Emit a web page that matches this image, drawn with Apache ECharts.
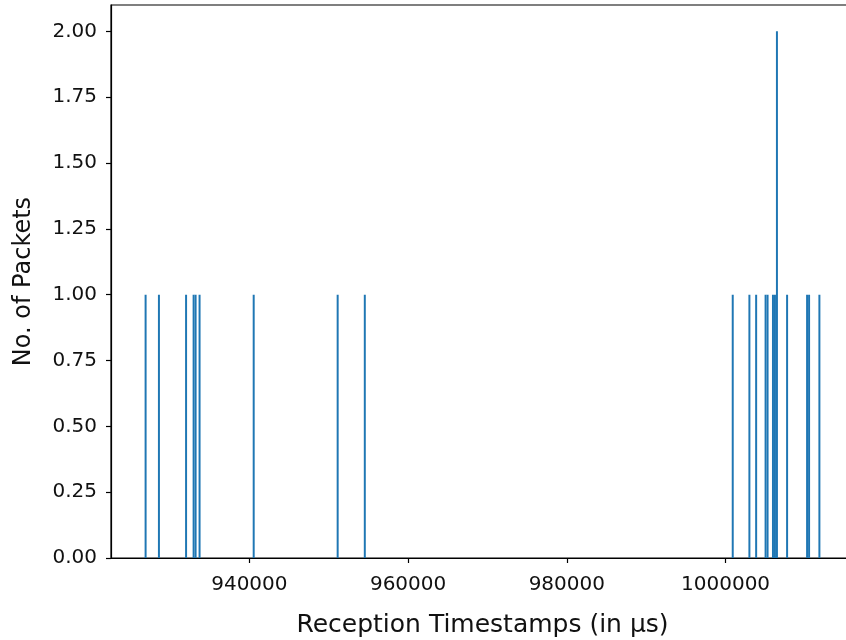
<!DOCTYPE html>
<html>
<head>
<meta charset="utf-8">
<script src="https://cdn.jsdelivr.net/npm/echarts@6/dist/echarts.min.js"></script>
<style>html,body{margin:0;padding:0;background:#fff}#c{width:846px;height:640px}</style>
</head>
<body>
<div id="c"></div>
<script>
// Histogram bin start timestamps (µs) and packet counts
const binStarts = [926800, 928480, 931900, 932850, 933100, 933600, 940420, 951000, 954420,
  1000780, 1002880, 1003730, 1004920, 1005170, 1005850, 1006100, 1006350,
  1007630, 1010150, 1010400, 1011700];
const counts = [1, 1, 1, 1, 1, 1, 1, 1, 1,
  1, 1, 1, 1, 1, 1, 1, 2,
  1, 1, 1, 1];
const binWidth = 250;
const xTicks = [940000, 960000, 980000, 1000000];
const yTicks = [0, 0.25, 0.5, 0.75, 1.0, 1.25, 1.5, 1.75, 2.0];
const xMin = 922565, xMax = 1016185;
const yMin = 0, yMax = 2.1;

const data = binStarts.map((s, i) => [s, s + binWidth, counts[i]]);
const font = 'DejaVu Sans';
const chart = echarts.init(document.getElementById('c'));
chart.setOption({
  animation: false,
  grid: {left: 111, width: 743, top: 5, height: 553, show: true, borderColor: '#000', borderWidth: 1.2,
    backgroundColor: 'transparent', containLabel: false, outerBoundsMode: 'none'},
  xAxis: {
    type: 'value', min: xMin, max: xMax,
    name: 'Reception Timestamps (in µs)', nameLocation: 'middle', nameGap: 55,
    nameTextStyle: {fontFamily: font, fontSize: 25, color: '#111'},
    axisLine: {show: true, lineStyle: {color: '#000', width: 1.2}},
    axisTick: {show: true, length: 5, lineStyle: {color: '#000', width: 1.2}, customValues: xTicks},
    axisLabel: {fontFamily: font, fontSize: 20, color: '#111', margin: 17, customValues: xTicks, formatter: v => String(v)},
    splitLine: {show: false}
  },
  yAxis: {
    type: 'value', min: yMin, max: yMax,
    name: 'No. of Packets', nameLocation: 'middle', nameGap: 75,
    nameTextStyle: {fontFamily: font, fontSize: 24, color: '#111'},
    axisLine: {show: true, lineStyle: {color: '#000', width: 1.2}},
    axisTick: {show: true, length: 5, lineStyle: {color: '#000', width: 1.2}, customValues: yTicks},
    axisLabel: {fontFamily: font, fontSize: 20, color: '#111', margin: 14, customValues: yTicks, formatter: v => v.toFixed(2)},
    splitLine: {show: false}
  },
  series: [{
    type: 'custom',
    data: data,
    encode: {x: [0, 1], y: 2},
    renderItem: function (params, api) {
      const p0 = api.coord([api.value(0), 0]);
      const p1 = api.coord([api.value(1), api.value(2)]);
      return {
        type: 'rect',
        shape: {x: p0[0], y: p1[1], width: Math.max(p1[0] - p0[0], 1), height: p0[1] - p1[1]},
        style: {fill: '#1f77b4'}
      };
    }
  }]
});
</script>
</body>
</html>
